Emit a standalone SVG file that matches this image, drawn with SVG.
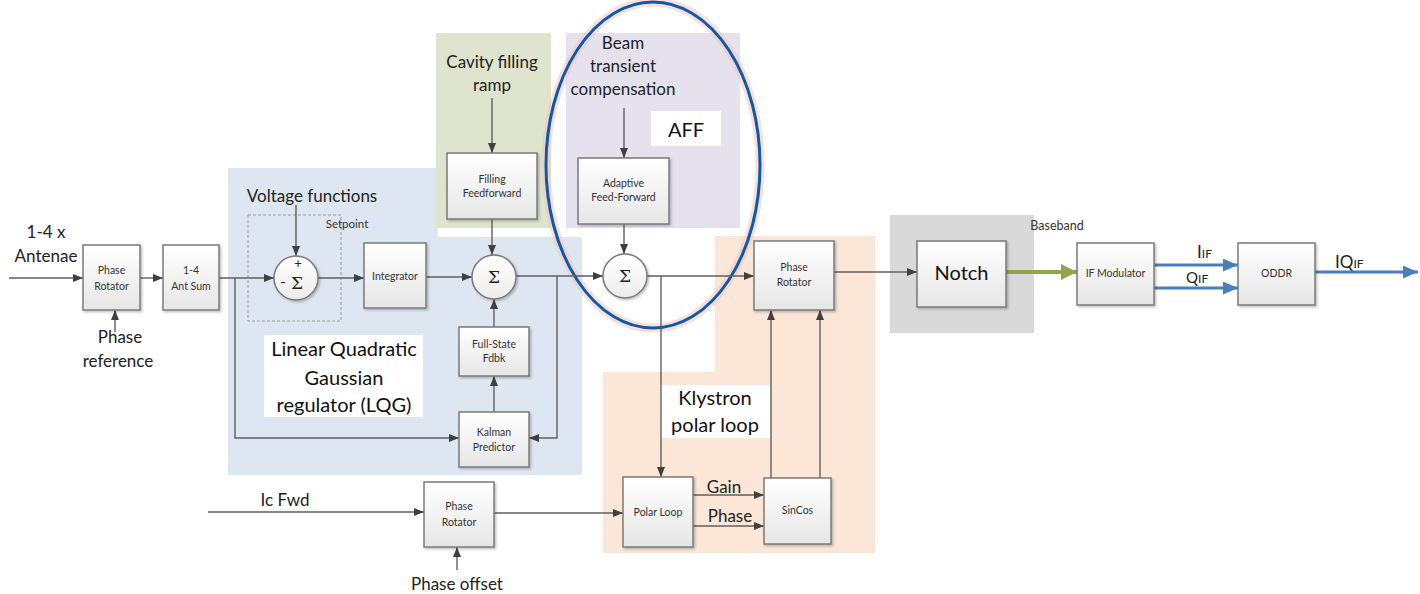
<svg xmlns="http://www.w3.org/2000/svg" width="1420" height="594" viewBox="0 0 1420 594">
<style>
.box{fill:url(#bg);stroke:#7a7a7a;stroke-width:1.5;filter:url(#sh)}
.circ{fill:url(#cg);stroke:#7a7a7a;stroke-width:1.5;filter:url(#sh)}
.bt{font-family:Lato,"Liberation Sans",sans-serif;font-size:10.5px;fill:#333;text-anchor:middle}
.lbl{font-family:Lato,"Liberation Sans",sans-serif;font-size:17px;fill:#222;text-anchor:middle}
.big{font-family:Lato,"Liberation Sans",sans-serif;font-size:20px;fill:#111;text-anchor:middle}
.sig{font-family:"DejaVu Serif","Liberation Serif",serif;font-size:17px;fill:#222;text-anchor:middle}
.ln{fill:none;stroke:#5f5f5f;stroke-width:1.4}
.ar{marker-end:url(#ah)}
.blu{fill:none;stroke:#4a7ebb;stroke-width:3;marker-end:url(#bh)}
</style>
<defs>
<linearGradient id="bg" x1="0" y1="0" x2="0" y2="1"><stop offset="0" stop-color="#ffffff"/><stop offset="1" stop-color="#e6e6e6"/></linearGradient>
<linearGradient id="cg" x1="0" y1="0" x2="0" y2="1"><stop offset="0" stop-color="#ffffff"/><stop offset="1" stop-color="#ececec"/></linearGradient>
<filter id="sh" x="-10%" y="-10%" width="130%" height="130%"><feDropShadow dx="1.5" dy="1.5" stdDeviation="1" flood-color="#000" flood-opacity="0.25"/></filter>
<marker id="ah" viewBox="0 0 10 8" refX="10" refY="4" markerWidth="10" markerHeight="8" markerUnits="userSpaceOnUse" orient="auto"><path d="M0,0 L10,4 L0,8 z" fill="#404040"/></marker>
<marker id="bh" viewBox="0 0 14 12" refX="14" refY="6" markerWidth="15" markerHeight="13" markerUnits="userSpaceOnUse" orient="auto"><path d="M0,0 L14,6 L0,12 z" fill="#4a7ebb"/></marker>
<marker id="gh" viewBox="0 0 14 14" refX="14" refY="7" markerWidth="16" markerHeight="16" markerUnits="userSpaceOnUse" orient="auto"><path d="M0,0 L14,7 L0,14 z" fill="#8fa64c"/></marker>
</defs>

<g id="regions">
<path d="M228,168 H438 V237 H582 V475 H228 Z" fill="#dee7f1"/>
<rect x="436" y="33" width="115" height="195" fill="#dfe4cf"/>
<rect x="566" y="33" width="174" height="195" fill="#e5e2ee"/>
<path d="M715,236 H875 V553 H603 V372 H715 Z" fill="#fbe6d8"/>
<rect x="890" y="215" width="144" height="118" fill="#d9d9d9"/>
<rect x="248" y="215" width="93" height="106" fill="none" stroke="#9a9a9a" stroke-width="1" stroke-dasharray="3,2"/>
<rect x="264" y="335" width="159" height="82" fill="#ffffff"/>
<rect x="651" y="111" width="70" height="35" fill="#ffffff"/>
<rect x="660" y="385" width="110" height="53" fill="#ffffff"/>
</g>

<g id="ellipse">
<ellipse cx="653" cy="165" rx="107" ry="163" fill="none" stroke="#f2c4bf" stroke-width="9" stroke-opacity="0.55"/>
<ellipse cx="653" cy="165" rx="107" ry="163" fill="none" stroke="#0d5aa7" stroke-width="3"/>
</g>

<g id="labels">
<text class="lbl" x="46" y="238">1-4 x</text>
<text class="lbl" x="46" y="262">Antenae</text>
<text class="lbl" x="120" y="343">Phase</text>
<text class="lbl" x="118" y="367">reference</text>
<text class="lbl" x="312" y="202">Voltage functions</text>
<text class="bt" x="347" y="228" style="font-size:11.5px">Setpoint</text>
<text class="big" x="344" y="356">Linear Quadratic</text>
<text class="big" x="344" y="385">Gaussian</text>
<text class="big" x="344" y="412">regulator (LQG)</text>
<text class="lbl" x="492" y="68">Cavity filling</text>
<text class="lbl" x="492" y="91">ramp</text>
<text class="lbl" x="623" y="49">Beam</text>
<text class="lbl" x="623" y="72">transient</text>
<text class="lbl" x="623" y="95">compensation</text>
<text class="big" x="686" y="137">AFF</text>
<text class="big" x="715" y="405">Klystron</text>
<text class="big" x="715" y="432">polar loop</text>
<text class="lbl" x="724" y="493">Gain</text>
<text class="lbl" x="730" y="522">Phase</text>
<text class="lbl" x="285" y="506">Ic Fwd</text>
<text class="lbl" x="457" y="590">Phase offset</text>
<text class="bt" x="1057" y="230" style="font-size:12.5px">Baseband</text>
<text class="lbl" x="1197" y="258" style="text-anchor:start">I<tspan font-size="12">IF</tspan></text>
<text class="lbl" x="1186" y="283" style="text-anchor:start"><tspan font-size="15">Q</tspan><tspan font-size="12">IF</tspan></text>
<text class="lbl" x="1335" y="268" style="text-anchor:start">IQ<tspan font-size="12">IF</tspan></text>
</g>

<g id="connectors">
<path class="ln ar" d="M9,278 H83"/>
<path class="ln ar" d="M115,332 V310"/>
<path class="ln ar" d="M140,278 H163"/>
<path class="ln ar" d="M219,278 H274"/>
<path class="ln ar" d="M235,278 V438 H459"/>
<path class="ln ar" d="M296,205 V256"/>
<path class="ln ar" d="M318,278 H364"/>
<path class="ln ar" d="M426,277 H472"/>
<path class="ln ar" d="M492,98 V153"/>
<path class="ln ar" d="M492,219 V255"/>
<path class="ln ar" d="M494,327 V299"/>
<path class="ln ar" d="M494,412 V376"/>
<path class="ln ar" d="M516,276 H603"/>
<path class="ln ar" d="M557,276 V438 H529"/>
<path class="ln ar" d="M624,108 V158"/>
<path class="ln ar" d="M624,224 V254"/>
<path class="ln ar" d="M647,276 H754"/>
<path class="ln ar" d="M661,276 V477"/>
<path class="ln ar" d="M693,495 H764"/>
<path class="ln ar" d="M693,526 H764"/>
<path class="ln ar" d="M771,478 V310"/>
<path class="ln ar" d="M820,478 V310"/>
<path class="ln ar" d="M834,272 H917"/>
<path d="M1006,272 H1077" fill="none" stroke="#8fa64c" stroke-width="4" marker-end="url(#gh)"/>
<path class="blu" d="M1154,265 H1238"/>
<path class="blu" d="M1154,288 H1238"/>
<path class="blu" d="M1315,272 H1418"/>
<path class="ln ar" d="M208,512 H424"/>
<path class="ln ar" d="M457,570 V547"/>
<path class="ln ar" d="M494,513 H623"/>
</g>

<g id="phase-rotator-1"><rect class="box" x="83" y="245" width="57" height="65"/><text class="bt" x="111.5" y="274">Phase</text><text class="bt" x="111.5" y="290">Rotator</text></g>
<g id="ant-sum"><rect class="box" x="163" y="245" width="56" height="65"/><text class="bt" x="191" y="274">1-4</text><text class="bt" x="191" y="290">Ant Sum</text></g>
<g id="sum-1"><circle class="circ" cx="296" cy="278" r="22"/><text class="sig" x="297" y="289" style="font-size:17px">Σ</text><text class="lbl" x="298" y="268" style="font-size:13px">+</text><text class="lbl" x="283" y="287" style="font-size:15px">-</text></g>
<g id="integrator"><rect class="box" x="364" y="243" width="62" height="65"/><text class="bt" x="395" y="280">Integrator</text></g>
<g id="sum-2"><circle class="circ" cx="494" cy="277" r="22"/><text class="sig" x="494" y="283">Σ</text></g>
<g id="filling-ff"><rect class="box" x="447" y="153" width="90" height="66"/><text class="bt" x="492" y="183">Filling</text><text class="bt" x="492" y="197">Feedforward</text></g>
<g id="full-state"><rect class="box" x="459" y="327" width="70" height="49"/><text class="bt" x="494" y="348">Full-State</text><text class="bt" x="494" y="362">Fdbk</text></g>
<g id="kalman"><rect class="box" x="459" y="412" width="70" height="55"/><text class="bt" x="494" y="436">Kalman</text><text class="bt" x="494" y="451">Predictor</text></g>
<g id="aff-box"><rect class="box" x="578" y="158" width="91" height="66"/><text class="bt" x="623.5" y="187">Adaptive</text><text class="bt" x="623.5" y="201">Feed-Forward</text></g>
<g id="sum-3"><circle class="circ" cx="625" cy="276" r="22"/><text class="sig" x="625" y="282">Σ</text></g>
<g id="phase-rotator-2"><rect class="box" x="754" y="241" width="80" height="69"/><text class="bt" x="794" y="271">Phase</text><text class="bt" x="794" y="286">Rotator</text></g>
<g id="polar-loop"><rect class="box" x="623" y="477" width="70" height="70"/><text class="bt" x="658" y="516">Polar Loop</text></g>
<g id="sincos"><rect class="box" x="764" y="478" width="67" height="66"/><text class="bt" x="797.5" y="514">SinCos</text></g>
<g id="notch"><rect class="box" x="917" y="241" width="89" height="66"/><text class="big" x="961.5" y="280">Notch</text></g>
<g id="if-modulator"><rect class="box" x="1077" y="243" width="77" height="62"/><text class="bt" x="1115.5" y="277">IF Modulator</text></g>
<g id="oddr"><rect class="box" x="1238" y="243" width="77" height="62"/><text class="bt" x="1276.5" y="277">ODDR</text></g>
<g id="phase-rotator-3"><rect class="box" x="424" y="482" width="70" height="65"/><text class="bt" x="459" y="510">Phase</text><text class="bt" x="459" y="526">Rotator</text></g>
</svg>
